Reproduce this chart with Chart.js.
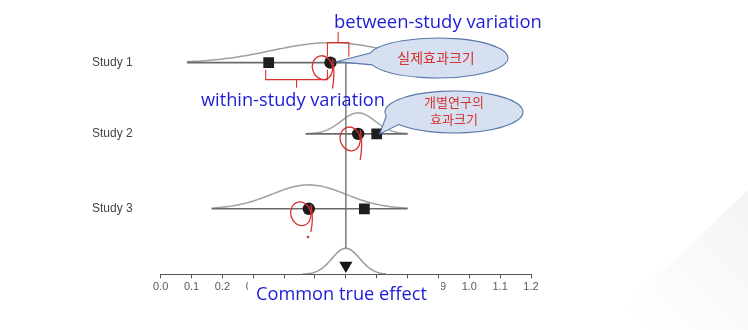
<!DOCTYPE html>
<html>
<head>
<meta charset="utf-8">
<title>Random-effects model</title>
<script src="https://cdn.jsdelivr.net/npm/chart.js@4.4.1/dist/chart.umd.min.js"></script>
<style>
  html, body { margin: 0; padding: 0; background: #fff; }
  #wrap { width: 748px; height: 330px; position: relative; }
</style>
</head>
<body>
<div id="wrap"><canvas id="chart" width="748" height="330"></canvas></div>
<script>
(function () {
  'use strict';

  /* values */
  var STUDIES = ['Study 1', 'Study 2', 'Study 3'];
  var ROW_Y = [8.14, 5.4, 2.52];
  var TRUE_EFFECT = [0.55, 0.64, 0.48];
  var OBSERVED = [0.35, 0.70, 0.66];
  var WITHIN_SD = [0.19, 0.055, 0.12];
  var LINE_FROM = [0.085, 0.47, 0.165];
  var LINE_TO = [1.0, 0.80, 0.80];
  var CURVE_HEIGHT = [0.77, 0.81, 0.92];
  var COMMON_EFFECT = [0.6];
  var BETWEEN_SD = [0.045];
  var BETWEEN_RANGE = [0.46, 0.73];
  var BETWEEN_HEIGHT = [1.0];
  var MARKER_Y = [0.34];
  var X_TICKS = [0.0, 0.1, 0.2, 0.3, 0.4, 0.5, 0.6, 0.7, 0.8, 0.9, 1.0, 1.1, 1.2];

  var BLUE = '#1c1cd8';
  var RED = '#d8322e';

  /* normal density, drawn as a line */
  function bell(mean, sd, from, to, base, height) {
    var pts = [];
    var n = 80;
    for (var i = 0; i <= n; i++) {
      var x = from + (to - from) * i / n;
      var z = (x - mean) / sd;
      pts.push({ x: x, y: base + height * Math.exp(-0.5 * z * z) });
    }
    return pts;
  }

  var datasets = [];

  /* markers on top */
  datasets.push({
    label: 'true',
    data: TRUE_EFFECT.map(function (v, i) { return { x: v, y: ROW_Y[i] }; }),
    pointStyle: 'circle', pointRadius: 6.2,
    backgroundColor: '#1b1b1b', borderColor: '#1b1b1b', borderWidth: 0,
    order: 0
  });
  datasets.push({
    label: 'observed',
    data: OBSERVED.map(function (v, i) { return { x: v, y: ROW_Y[i] }; }),
    pointStyle: 'rect', pointRadius: 7.6,
    backgroundColor: '#1e1e1e', borderColor: '#1e1e1e', borderWidth: 0,
    order: 0
  });
  datasets.push({
    label: 'common',
    data: [{ x: COMMON_EFFECT[0], y: MARKER_Y[0] }],
    pointStyle: 'triangle', pointRadius: 7.6, rotation: 180,
    backgroundColor: '#151515', borderColor: '#151515', borderWidth: 0,
    order: 0
  });

  /* vertical line at the common effect */
  datasets.push({
    label: 'vline',
    data: [{ x: COMMON_EFFECT[0], y: ROW_Y[0] }, { x: COMMON_EFFECT[0], y: BETWEEN_HEIGHT[0] }],
    showLine: true, pointRadius: 0, borderColor: '#7a7a7a', borderWidth: 1.5,
    order: 2
  });

  STUDIES.forEach(function (s, i) {
    datasets.push({
      label: s + ' line',
      data: [{ x: LINE_FROM[i], y: ROW_Y[i] }, { x: LINE_TO[i], y: ROW_Y[i] }],
      showLine: true, pointRadius: 0, borderColor: '#6a6a6a', borderWidth: 1.6,
      order: 1
    });
    datasets.push({
      label: s + ' curve',
      data: bell(TRUE_EFFECT[i], WITHIN_SD[i], LINE_FROM[i], LINE_TO[i], ROW_Y[i], CURVE_HEIGHT[i]),
      showLine: true, pointRadius: 0, borderColor: '#a0a0a0', borderWidth: 1.5,
      order: 2
    });
  });

  datasets.push({
    label: 'between curve',
    data: bell(COMMON_EFFECT[0], BETWEEN_SD[0], BETWEEN_RANGE[0], BETWEEN_RANGE[1], 0, BETWEEN_HEIGHT[0]),
    showLine: true, pointRadius: 0, borderColor: '#9a9a9a', borderWidth: 1.5,
    order: 2
  });

  function fitSize(ctx, text, width, family) {
    ctx.font = '100px ' + family;
    return 100 * width / ctx.measureText(text).width;
  }

  function fitText(ctx, text, left, right, cy, family, color) {
    var size = fitSize(ctx, text, right - left, family);
    ctx.font = size + 'px ' + family;
    ctx.fillStyle = color;
    ctx.textAlign = 'left';
    ctx.textBaseline = 'middle';
    ctx.fillText(text, left, cy);
  }

  function balloon(ctx, cx, cy, rx, ry, a1, a2, tipX, tipY) {
    ctx.beginPath();
    ctx.ellipse(cx, cy, rx, ry, 0, a2, a1 + Math.PI * 2);
    ctx.lineTo(tipX, tipY);
    ctx.closePath();
    ctx.fillStyle = '#d7e0f0';
    ctx.fill();
    ctx.strokeStyle = '#5877aa';
    ctx.lineWidth = 1.1;
    ctx.stroke();
  }

  function nine(ctx, cx, cy, tail) {
    ctx.beginPath();
    ctx.ellipse(cx - 8, cy + 5, 10, 12, -0.25, 0, Math.PI * 2);
    ctx.stroke();
    ctx.beginPath();
    ctx.moveTo(cx + 2, cy - 4);
    ctx.quadraticCurveTo(cx + 5, cy + 10, cx + 2, cy + tail);
    ctx.stroke();
  }

  var backdrop = {
    id: 'backdrop',
    beforeDraw: function (chart) {
      var ctx = chart.ctx;
      ctx.save();
      ctx.fillStyle = '#ffffff';
      ctx.fillRect(0, 0, chart.width, chart.height);
      var g = ctx.createLinearGradient(640, 330, 748, 220);
      g.addColorStop(0, 'rgba(0,0,0,0)');
      g.addColorStop(1, 'rgba(0,0,0,0.04)');
      ctx.fillStyle = g;
      ctx.beginPath();
      ctx.moveTo(600, 330);
      ctx.lineTo(748, 190);
      ctx.lineTo(748, 330);
      ctx.closePath();
      ctx.fill();
      ctx.restore();
    }
  };

  var overlay = {
    id: 'overlay',
    afterDraw: function (chart) {
      var ctx = chart.ctx;
      var xs = chart.scales.x;
      var ys = chart.scales.y;
      var sans = '"Open Sans", "Noto Sans", sans-serif';
      var kr = '"Noto Sans CJK KR", sans-serif';
      ctx.save();

      /* axis title box hides the middle tick labels */
      ctx.fillStyle = '#ffffff';
      ctx.fillRect(248, 280, 193, 32);
      fitText(ctx, 'Common true effect', 256, 427, 295, sans, BLUE);
      fitText(ctx, 'between-study variation', 334, 542, 23, sans, BLUE);
      fitText(ctx, 'within-study variation', 201, 385, 101, sans, BLUE);

      /* red brackets */
      var r1 = ys.getPixelForValue(ROW_Y[0]);
      var cx1 = xs.getPixelForValue(TRUE_EFFECT[0]);
      var ox1 = xs.getPixelForValue(OBSERVED[0]);
      var mx = xs.getPixelForValue(COMMON_EFFECT[0]);
      ctx.strokeStyle = RED;
      ctx.lineWidth = 1.1;
      ctx.beginPath();
      var bl = cx1 - 3, br = mx + 3, bm = (bl + br) / 2;
      ctx.moveTo(bl, r1 - 6); ctx.lineTo(bl, r1 - 20); ctx.lineTo(br, r1 - 20); ctx.lineTo(br, r1 - 6);
      ctx.moveTo(bm, r1 - 20); ctx.lineTo(bm, r1 - 31);
      var wl = ox1 - 3, wr = cx1 - 3, wm = (wl + wr) / 2;
      ctx.moveTo(wl, r1 + 7); ctx.lineTo(wl, r1 + 17); ctx.lineTo(wr, r1 + 17); ctx.lineTo(wr, r1 + 7);
      ctx.moveTo(wm, r1 + 17); ctx.lineTo(wm, r1 + 25);
      ctx.stroke();

      /* hand-drawn marks */
      ctx.lineWidth = 1.3;
      var tails = [26, 26, 23];
      TRUE_EFFECT.forEach(function (v, i) {
        nine(ctx, xs.getPixelForValue(v), ys.getPixelForValue(ROW_Y[i]), tails[i]);
      });
      ctx.fillStyle = RED;
      ctx.beginPath();
      ctx.arc(308, 237, 1.3, 0, Math.PI * 2);
      ctx.fill();

      /* callouts */
      balloon(ctx, 438, 58, 70, 20, Math.PI - 0.35, Math.PI + 0.25, cx1 + 6, r1 - 1);
      ctx.fillStyle = RED;
      ctx.font = '14px ' + kr;
      ctx.textAlign = 'center';
      ctx.textBaseline = 'middle';
      ctx.fillText('실제효과크기', 436, 58);

      var r2 = ys.getPixelForValue(ROW_Y[1]);
      var ox2 = xs.getPixelForValue(OBSERVED[1]);
      balloon(ctx, 454, 112, 69, 21, 2.5, 2.95, ox2 + 3, r2);
      ctx.fillStyle = RED;
      ctx.font = '13px ' + kr;
      ctx.fillText('개별연구의', 454, 102);
      ctx.fillText('효과크기', 454, 119);

      ctx.restore();
    }
  };

  new Chart(document.getElementById('chart'), {
    type: 'scatter',
    data: { datasets: datasets },
    options: {
      responsive: false,
      animation: false,
      events: [],
      layout: { padding: { left: 92, top: 14.3, right: 217, bottom: 25.7 } },
      plugins: { legend: { display: false }, tooltip: { enabled: false } },
      scales: {
        x: {
          type: 'linear', min: 0, max: 1.2,
          afterBuildTicks: function (s) { s.ticks = X_TICKS.map(function (v) { return { value: v }; }); },
          afterFit: function (s) { s.height = 30; },
          ticks: {
            autoSkip: false, maxRotation: 0, padding: 2,
            color: '#5a5a5a', font: { family: 'Arial, "Liberation Sans", sans-serif', size: 11 },
            callback: function (v) { return Number(v).toFixed(1); }
          },
          grid: { display: true, drawOnChartArea: false, drawTicks: true, tickLength: 4, color: '#555' },
          border: { display: true, color: '#555', width: 1 }
        },
        y: {
          type: 'linear', min: 0, max: 10, position: 'left',
          afterBuildTicks: function (s) { s.ticks = ROW_Y.map(function (v) { return { value: v }; }); },
          afterFit: function (s) { s.width = 68.7; },
          ticks: {
            autoSkip: false, crossAlign: 'far', color: '#444',
            font: { family: 'Arial, "Liberation Sans", sans-serif', size: 12 },
            callback: function (v, i) { return STUDIES[i]; }
          },
          grid: { display: false },
          border: { display: false }
        }
      }
    },
    plugins: [backdrop, overlay]
  });
})();
</script>
</body>
</html>
